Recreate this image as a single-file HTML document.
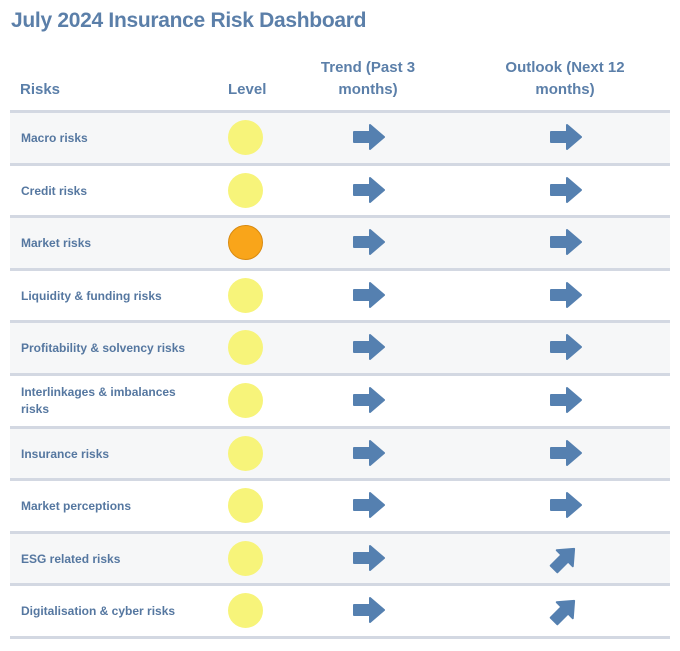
<!DOCTYPE html>
<html><head><style>
body{margin:0;width:680px;height:651px;background:#fff;font-family:"Liberation Sans",sans-serif;position:relative;overflow:hidden}
.t{position:absolute;left:11px;top:9px;font-size:21px;font-weight:bold;color:#5b7fa9;letter-spacing:-0.3px}
.h{position:absolute;font-size:15px;font-weight:bold;color:#5b7fa9;text-align:center;line-height:22px}
.r{position:absolute;left:10px;width:660px;height:53px;border-top:3px solid #d3d8e2;box-sizing:border-box}
.g{background:#f6f7f8}
.lab{position:absolute;left:11px;top:0;height:50px;display:flex;align-items:center;font-size:12px;font-weight:bold;color:#5577a0;line-height:17px;width:185px}
.c{position:absolute;left:218px;top:7px;width:35px;height:35px;border-radius:50%;background:#f7f47a}
.o{background:#f9a51a;border:1px solid #d88a10;width:33px;height:33px}
.a1{position:absolute;left:342px;top:10px}
.a2{position:absolute;left:539px;top:10px}
.a3{position:absolute;left:539px;top:8px}
</style></head><body>
<div class="t">July 2024 Insurance Risk Dashboard</div>
<div class="h" style="left:20px;top:79px;text-align:left">Risks</div>
<div class="h" style="left:228px;top:79px;text-align:left">Level</div>
<div class="h" style="left:298px;top:57px;width:140px">Trend (Past 3<br>months)</div>
<div class="h" style="left:485px;top:57px;width:160px">Outlook (Next 12<br>months)</div>
<svg width="0" height="0" style="position:absolute"><defs><path id="ar" d="M0,-5 H16 V-12 L30,0 L16,12 V5 H0 Z" fill="#5580b0" stroke="#5580b0" stroke-linejoin="round" stroke-width="2"/></defs></svg>

<div class="r g" style="top:110px"><div class="lab">Macro risks</div><div class="c"></div><svg class="a1" width="34" height="28"><use href="#ar" transform="translate(2,14)"/></svg><svg class="a2" width="34" height="28"><use href="#ar" transform="translate(2,14)"/></svg></div>
<div class="r" style="top:163px"><div class="lab">Credit risks</div><div class="c"></div><svg class="a1" width="34" height="28"><use href="#ar" transform="translate(2,14)"/></svg><svg class="a2" width="34" height="28"><use href="#ar" transform="translate(2,14)"/></svg></div>
<div class="r g" style="top:215px"><div class="lab">Market risks</div><div class="c o"></div><svg class="a1" width="34" height="28"><use href="#ar" transform="translate(2,14)"/></svg><svg class="a2" width="34" height="28"><use href="#ar" transform="translate(2,14)"/></svg></div>
<div class="r" style="top:268px"><div class="lab">Liquidity &amp; funding risks</div><div class="c"></div><svg class="a1" width="34" height="28"><use href="#ar" transform="translate(2,14)"/></svg><svg class="a2" width="34" height="28"><use href="#ar" transform="translate(2,14)"/></svg></div>
<div class="r g" style="top:320px"><div class="lab">Profitability &amp; solvency risks</div><div class="c"></div><svg class="a1" width="34" height="28"><use href="#ar" transform="translate(2,14)"/></svg><svg class="a2" width="34" height="28"><use href="#ar" transform="translate(2,14)"/></svg></div>
<div class="r" style="top:373px"><div class="lab">Interlinkages &amp; imbalances<br>risks</div><div class="c"></div><svg class="a1" width="34" height="28"><use href="#ar" transform="translate(2,14)"/></svg><svg class="a2" width="34" height="28"><use href="#ar" transform="translate(2,14)"/></svg></div>
<div class="r g" style="top:426px"><div class="lab">Insurance risks</div><div class="c"></div><svg class="a1" width="34" height="28"><use href="#ar" transform="translate(2,14)"/></svg><svg class="a2" width="34" height="28"><use href="#ar" transform="translate(2,14)"/></svg></div>
<div class="r" style="top:478px"><div class="lab">Market perceptions</div><div class="c"></div><svg class="a1" width="34" height="28"><use href="#ar" transform="translate(2,14)"/></svg><svg class="a2" width="34" height="28"><use href="#ar" transform="translate(2,14)"/></svg></div>
<div class="r g" style="top:531px"><div class="lab">ESG related risks</div><div class="c"></div><svg class="a1" width="34" height="28"><use href="#ar" transform="translate(2,14)"/></svg><svg class="a3" width="34" height="32"><use href="#ar" transform="translate(5,27) rotate(-45) scale(0.95)"/></svg></div>
<div class="r" style="top:583px"><div class="lab">Digitalisation &amp; cyber risks</div><div class="c"></div><svg class="a1" width="34" height="28"><use href="#ar" transform="translate(2,14)"/></svg><svg class="a3" width="34" height="32"><use href="#ar" transform="translate(5,27) rotate(-45) scale(0.95)"/></svg></div>
<div class="r" style="top:636px;height:3px"></div>
</body></html>
